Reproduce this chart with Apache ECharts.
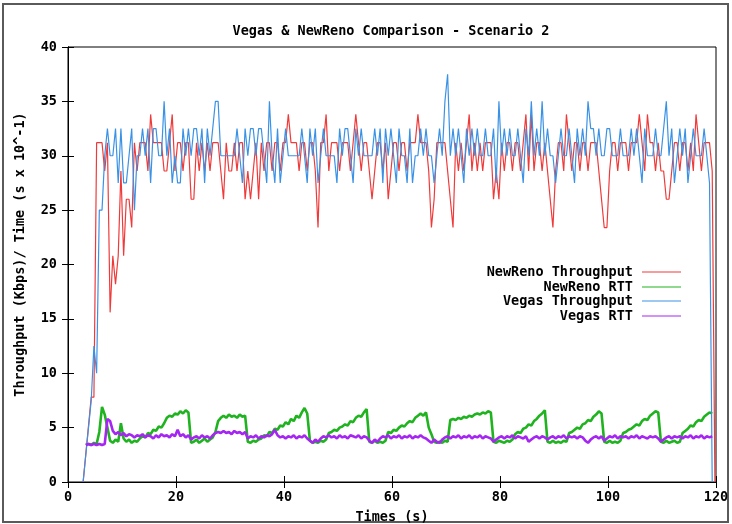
<!DOCTYPE html>
<html>
<head>
<meta charset="utf-8">
<script src="https://cdn.jsdelivr.net/npm/echarts@6/dist/echarts.min.js"></script>
<style>
  html, body { margin: 0; padding: 0; background: #fff; }
  #chart { width: 732px; height: 524px; }
</style>
</head>
<body>
<div id="chart"></div>
<script>
// Sampling: one value every half second
const STEP = 0.5;
const THROUGHPUT_START = 2.8;   // first throughput sample (s)
const RTT_START = 3.3;          // first RTT sample (s)

// NewReno throughput samples (Kbps)
const newrenoThroughput = [
  0, 2.6, 5.2, 7.8, 7.8, 31.2, 31.2, 31.2, 28.6, 31.2,
  15.6, 20.8, 18.2, 20.8, 28.6, 20.8, 26, 26, 23.4, 31.2,
  28.6, 31.2, 31.2, 31.2, 28.6, 33.8, 31.2, 31.2, 31.2, 31.2,
  28.6, 28.6, 31.2, 33.8, 28.6, 31.2, 31.2, 28.6, 31.2, 31.2,
  26, 26, 31.2, 28.6, 31.2, 28.6, 31.2, 28.6, 31.2, 31.2,
  31.2, 28.6, 26, 31.2, 28.6, 28.6, 31.2, 28.6, 31.2, 31.2,
  26, 28.6, 26, 28.6, 31.2, 26, 31.2, 28.6, 31.2, 31.2,
  28.6, 31.2, 31.2, 28.6, 31.2, 31.2, 33.8, 31.2, 31.2, 31.2,
  28.6, 31.2, 31.2, 28.6, 31.2, 31.2, 28.6, 23.4, 31.2, 31.2,
  33.8, 28.6, 31.2, 31.2, 31.2, 28.6, 31.2, 31.2, 31.2, 28.6,
  31.2, 33.8, 31.2, 28.6, 31.2, 31.2, 28.6, 26, 28.6, 31.2,
  31.2, 28.6, 31.2, 26, 28.6, 31.2, 31.2, 28.6, 31.2, 31.2,
  28.6, 31.2, 31.2, 31.2, 33.8, 31.2, 31.2, 31.2, 28.6, 23.4,
  26, 31.2, 31.2, 31.2, 31.2, 28.6, 26, 23.4, 31.2, 28.6,
  31.2, 28.6, 31.2, 33.8, 28.6, 31.2, 28.6, 31.2, 28.6, 31.2,
  31.2, 31.2, 26, 28.6, 26, 31.2, 28.6, 31.2, 31.2, 28.6,
  31.2, 31.2, 28.6, 31.2, 33.8, 28.6, 33.8, 28.6, 31.2, 31.2,
  28.6, 31.2, 28.6, 26, 23.4, 28.6, 31.2, 31.2, 28.6, 33.8,
  31.2, 28.6, 31.2, 31.2, 28.6, 31.2, 31.2, 28.6, 31.2, 31.2,
  31.2, 28.6, 26, 23.4, 23.4, 28.6, 31.2, 31.2, 28.6, 31.2,
  31.2, 31.2, 28.6, 31.2, 31.2, 31.2, 33.8, 31.2, 28.6, 33.8,
  31.2, 31.2, 28.6, 31.2, 28.6, 28.6, 26, 26, 28.6, 31.2,
  31.2, 28.6, 31.2, 31.2, 28.6, 31.2, 28.6, 33.8, 31.2, 28.6,
  31.2, 31.2, 31.2, 28.6, 0
];

// Vegas throughput samples (Kbps)
const vegasThroughput = [
  0, 2.5, 5, 7.5, 12.5, 10, 25, 25, 30, 32.5,
  30, 30, 32.5, 27.5, 32.5, 27.5, 27.5, 30, 32.5, 25,
  30, 30, 32.5, 30, 32.5, 27.5, 32.5, 32.5, 30, 30,
  35, 30, 32.5, 27.5, 30, 27.5, 27.5, 32.5, 30, 32.5,
  30, 32.5, 32.5, 30, 32.5, 27.5, 32.5, 30, 32.5, 35,
  35, 30, 30, 30, 30, 30, 30, 32.5, 30, 27.5,
  32.5, 30, 32.5, 32.5, 30, 32.5, 32.5, 30, 27.5, 35,
  30, 27.5, 32.5, 27.5, 30, 32.5, 30, 30, 30, 30,
  30, 32.5, 30, 27.5, 32.5, 30, 32.5, 27.5, 30, 32.5,
  30, 30, 30, 30, 27.5, 32.5, 30, 32.5, 32.5, 30,
  27.5, 32.5, 30, 32.5, 30, 30, 30, 30, 32.5, 30,
  32.5, 27.5, 32.5, 30, 32.5, 30, 27.5, 32.5, 30, 30,
  27.5, 32.5, 27.5, 30, 30, 32.5, 30, 32.5, 30, 30,
  27.5, 30, 32.5, 30, 35, 37.5, 30, 32.5, 30, 32.5,
  30, 27.5, 32.5, 30, 32.5, 30, 32.5, 30, 30, 32.5,
  30, 30, 32.5, 27.5, 35, 30, 32.5, 30, 32.5, 30,
  30, 32.5, 30, 27.5, 32.5, 30, 35, 30, 32.5, 30,
  35, 30, 32.5, 30, 30, 27.5, 30, 32.5, 30, 30,
  32.5, 30, 27.5, 32.5, 30, 32.5, 30, 35, 32.5, 32.5,
  30, 32.5, 30, 30, 32.5, 32.5, 30, 30, 30, 32.5,
  30, 30, 30, 32.5, 30, 32.5, 30, 27.5, 32.5, 30,
  30, 30, 32.5, 30, 30, 32.5, 35, 30, 32.5, 27.5,
  30, 32.5, 30, 32.5, 27.5, 30, 32.5, 30, 30, 30,
  32.5, 30, 27.5, 0
];

// NewReno RTT samples (s x 10^-1)
const newrenoRtt = [
  3.4, 3.5, 3.4, 3.6, 3.5, 4.6, 6.9, 6.2, 5.0, 3.8,
  3.6, 3.9, 3.7, 5.4, 4.0, 3.7, 3.9, 3.6, 3.8, 3.7,
  4.0, 4.2, 4.1, 4.5, 4.4, 4.8, 4.7, 5.1, 5.0, 5.4,
  5.9, 6.1, 6.0, 6.3, 6.2, 6.5, 6.3, 6.6, 6.4, 3.6,
  3.7, 3.9, 3.6, 3.8, 4.0, 3.7, 3.9, 4.1, 4.6, 5.6,
  5.9, 6.1, 5.9, 6.2, 6.0, 6.1, 5.9, 6.2, 6.0, 6.1,
  3.7, 3.6, 3.8, 3.7, 3.9, 4.0, 4.3, 4.2, 4.6, 4.5,
  4.9, 4.8, 5.2, 5.1, 5.5, 5.3, 5.8, 5.6, 6.1, 5.9,
  6.4, 6.8, 6.3, 3.8, 3.6, 3.7, 3.6, 3.8, 3.7, 3.9,
  4.5, 4.6, 4.8, 4.7, 5.0, 5.1, 5.3, 5.2, 5.6, 5.5,
  5.9, 6.1, 6.0, 6.4, 6.7, 3.7, 3.6, 3.8, 3.6, 3.7,
  3.6, 3.8, 4.6, 4.5, 4.8, 4.7, 5.0, 5.2, 5.1, 5.4,
  5.6, 5.5, 5.9, 6.1, 6.3, 6.1, 6.4, 5.0, 4.4, 3.7,
  3.6, 3.7, 3.6, 3.8, 3.7, 5.7, 5.8, 5.7, 5.9, 5.8,
  6.0, 5.9, 6.1, 6.0, 6.2, 6.3, 6.2, 6.4, 6.3, 6.5,
  6.4, 3.7, 3.6, 3.8, 3.7, 3.6, 3.8, 3.7, 3.9, 4.4,
  4.6, 4.5, 4.9, 5.0, 5.3, 5.2, 5.6, 5.8, 6.1, 6.3,
  6.6, 3.7, 3.6, 3.8, 3.6, 3.7, 3.6, 3.8, 3.7, 4.5,
  4.6, 4.8, 5.0, 4.9, 5.3, 5.4, 5.7, 5.6, 6.0, 6.2,
  6.5, 6.3, 3.7, 3.6, 3.8, 3.6, 3.7, 3.6, 3.8, 4.5,
  4.6, 4.8, 4.9, 5.1, 5.3, 5.2, 5.6, 5.8, 5.7, 6.1,
  6.3, 6.5, 6.4, 3.7, 3.6, 3.8, 3.6, 3.7, 3.8, 3.6,
  3.7, 4.5, 4.7, 4.9, 5.2, 5.1, 5.5, 5.7, 5.6, 6.0,
  6.2, 6.4, 6.3
];

// Vegas RTT samples (s x 10^-1)
const vegasRtt = [
  3.4, 3.5, 3.4, 3.5, 3.4, 3.5, 3.4, 3.5, 5.8, 5.6,
  4.7, 4.4, 4.6, 4.3, 4.5, 4.2, 4.4, 4.3, 4.1, 4.3,
  4.2, 4.4, 4.1, 4.3, 4.2, 4.0, 4.3, 4.1, 4.4, 4.2,
  4.3, 4.1, 4.4, 4.2, 4.8, 4.2, 4.4, 4.1, 4.3, 3.9,
  4.1, 4.2, 4.0, 4.3, 4.1, 4.2, 4.0, 4.3, 4.5, 4.6,
  4.5, 4.7, 4.5, 4.6, 4.4, 4.7, 4.5, 4.6, 4.4, 4.6,
  4.0, 4.2, 4.1, 4.3, 4.0, 4.2, 4.1, 4.3, 4.2, 4.4,
  4.8, 4.3, 4.1, 4.2, 4.0, 4.2, 4.1, 4.3, 4.0, 4.2,
  4.1, 4.3, 4.0, 3.8, 3.6, 3.9, 3.7, 4.0, 4.2, 4.1,
  4.3, 4.1, 4.2, 4.0, 4.3, 4.1, 4.2, 4.0, 4.3, 4.2,
  4.1, 4.3, 4.0, 4.2, 4.1, 3.8, 3.6, 3.9, 3.7, 4.0,
  4.2, 4.1, 4.3, 4.0, 4.2, 4.1, 4.3, 4.0, 4.2, 4.1,
  4.3, 4.0, 4.2, 4.1, 4.3, 4.1, 4.0, 3.8, 3.6, 3.9,
  3.7, 3.6, 3.9, 4.1, 4.2, 4.0, 4.2, 4.1, 4.3, 4.0,
  4.2, 4.1, 4.3, 4.0, 4.2, 4.1, 4.3, 4.0, 4.2, 4.1,
  4.0, 3.7, 3.9, 4.1, 4.2, 4.0, 4.2, 4.1, 4.3, 4.0,
  4.2, 4.1, 4.0, 4.2, 3.7, 3.9, 4.1, 4.2, 4.0, 4.2,
  4.1, 3.9, 4.1, 4.2, 4.0, 4.2, 4.1, 4.3, 4.0, 4.2,
  4.1, 4.2, 4.0, 4.2, 4.1, 3.8, 3.6, 3.9, 4.1, 4.2,
  4.0, 4.2, 3.8, 4.0, 4.2, 4.1, 4.3, 4.0, 4.2, 4.1,
  4.2, 4.0, 4.2, 4.1, 4.3, 4.0, 4.2, 4.1, 4.0, 4.2,
  4.1, 4.2, 4.0, 3.7, 3.9, 4.1, 4.2, 4.0, 4.2, 4.1,
  4.2, 4.0, 4.2, 4.1, 4.3, 4.0, 4.2, 4.1, 4.3, 4.0,
  4.2, 4.1, 4.2
];

const xTicks = { min: 0, max: 120, interval: 20 };
const yTicks = { min: 0, max: 40, interval: 5 };

const seriesNames = ['NewReno Throughput', 'NewReno RTT', 'Vegas Throughput', 'Vegas RTT'];
const seriesColors = ['#f03a3a', '#1fb31f', '#3a92e6', '#a526f2'];

// pair each sample with its time stamp
function withTime(values, start) {
  return values.map((v, i) => [+(start + i * STEP).toFixed(2), v]);
}

const FONT = '"DejaVu Sans Mono", "Liberation Mono", monospace';
const textBase = { fontFamily: FONT, fontWeight: 'bold', fontSize: 13.5, color: '#000' };

const chart = echarts.init(document.getElementById('chart'), null, { renderer: 'canvas' });

const tickStyle = { show: true, inside: true, length: 6, lineStyle: { color: '#000', width: 1 } };

function legendRow(i, top) {
  return {
    data: [seriesNames[i]],
    orient: 'horizontal',
    right: 51,
    top: top,
    align: 'right',
    itemWidth: 39,
    itemHeight: 14,
    itemGap: 0,
    textStyle: Object.assign({}, textBase, { padding: [0, 4, 0, 0] }),
    padding: 0,
    selectedMode: false,
    icon: 'path://M0,0L0,0M0,6.5L40,6.5L40,7.5L0,7.5ZM40,14L40,14'
  };
}

const option = {
  backgroundColor: '#fff',
  animation: false,
  title: {
    text: 'Vegas & NewReno Comparison - Scenario 2',
    left: 386,
    top: 19,
    textAlign: 'center',
    textStyle: textBase
  },
  legend: [legendRow(0, 265), legendRow(1, 280), legendRow(2, 294), legendRow(3, 309)],
  grid: {
    left: 68, right: 16, top: 47, bottom: 42,
    outerBoundsMode: 'none',
    containLabel: false,
    show: true, borderColor: '#000', borderWidth: 1, backgroundColor: 'transparent'
  },
  xAxis: [
    {
      type: 'value', min: xTicks.min, max: xTicks.max, interval: xTicks.interval,
      name: 'Times (s)', nameLocation: 'middle', nameGap: 28,
      nameTextStyle: textBase,
      axisLine: { show: true, lineStyle: { color: '#000' } },
      axisTick: tickStyle,
      axisLabel: Object.assign({ margin: 8 }, textBase),
      splitLine: { show: false }
    },
    {
      type: 'value', position: 'top', min: xTicks.min, max: xTicks.max, interval: xTicks.interval,
      axisLine: { show: true, lineStyle: { color: '#000' } },
      axisTick: tickStyle, axisLabel: { show: false }, splitLine: { show: false }
    }
  ],
  yAxis: [
    {
      type: 'value', min: yTicks.min, max: yTicks.max, interval: yTicks.interval,
      name: 'Throughput (Kbps)/ Time (s x 10^-1)', nameLocation: 'middle', nameGap: 41,
      nameTextStyle: Object.assign({}, textBase, { padding: [0, 0, 0, 20] }),
      axisLine: { show: true, lineStyle: { color: '#000' } },
      axisTick: tickStyle,
      axisLabel: Object.assign({ margin: 11 }, textBase),
      splitLine: { show: false }
    },
    {
      type: 'value', position: 'right', min: yTicks.min, max: yTicks.max, interval: yTicks.interval,
      axisLine: { show: true, lineStyle: { color: '#000' } },
      axisTick: tickStyle, axisLabel: { show: false }, splitLine: { show: false }
    }
  ],
  series: [
    { name: seriesNames[0], data: withTime(newrenoThroughput, THROUGHPUT_START), width: 1.2 },
    { name: seriesNames[1], data: withTime(newrenoRtt, RTT_START), width: 2.6 },
    { name: seriesNames[2], data: withTime(vegasThroughput, THROUGHPUT_START), width: 1.2 },
    { name: seriesNames[3], data: withTime(vegasRtt, RTT_START), width: 2.6 }
  ].map((s, i) => ({
    type: 'line',
    name: s.name,
    data: s.data,
    symbol: 'none',
    showSymbol: false,
    clip: true,
    color: seriesColors[i],
    lineStyle: { color: seriesColors[i], width: s.width },
    itemStyle: { color: seriesColors[i] },
    z: 2 + i
  })),
  graphic: [
    {
      type: 'rect', silent: true, z: -1,
      shape: { x: 3, y: 4, width: 725, height: 518 },
      style: { fill: 'none', stroke: '#5a5a5a', lineWidth: 2 }
    }
  ]
};

chart.setOption(option);
</script>
</body>
</html>
